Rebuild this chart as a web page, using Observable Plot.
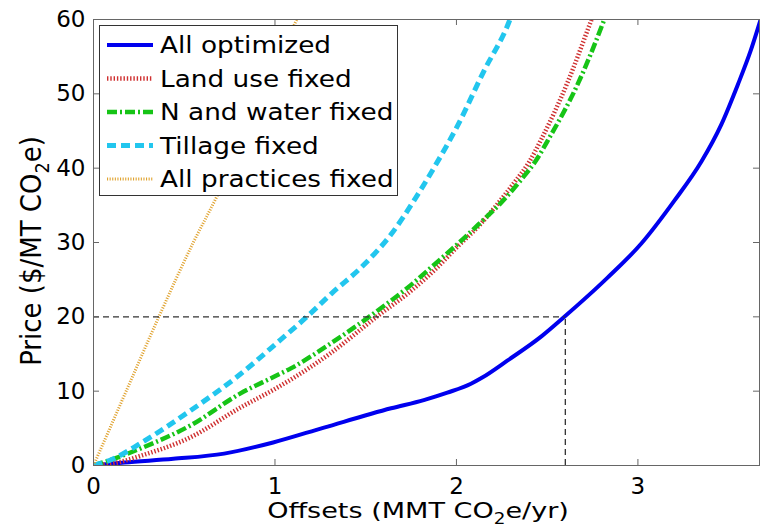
<!DOCTYPE html>
<html><head><meta charset="utf-8">
<script src="https://cdn.jsdelivr.net/npm/d3@7"></script>
<script src="https://cdn.jsdelivr.net/npm/@observablehq/plot@0.6"></script>
<style>body{margin:0;background:#fff;} #chart{width:760px;height:529px;}</style>
</head><body><div id="chart"></div>
<script>
// ---- data ----
const seriesNames = ["All optimized", "Land use fixed", "N and water fixed", "Tillage fixed", "All practices fixed"];

const allOptimizedX = [0, 0.17, 0.44, 0.72, 0.99, 1.27, 1.64, 1.82, 1.95, 2.08, 2.14, 2.28, 2.47, 2.59, 2.83, 3.02, 3.2, 3.35, 3.46, 3.55, 3.62, 3.68];
const allOptimizedY = [0, 0.4, 0.9, 1.6, 3.1, 5.1, 7.7, 8.8, 9.8, 11.0, 11.8, 14.1, 17.4, 19.9, 25.2, 29.9, 35.6, 40.9, 45.9, 51.2, 55.7, 60.3];

const landUseX = [0, 0.15, 0.26, 0.535, 0.81, 1.0, 1.09, 1.3, 1.56, 1.75, 1.88, 2.0, 2.13, 2.22, 2.32, 2.40, 2.47, 2.61, 2.74, 2.76];
const landUseY = [0, 0.5, 1.3, 3.8, 7.8, 10.3, 11.6, 15.0, 20, 23.5, 26.3, 29.3, 32.4, 35.0, 38.1, 40.8, 44.0, 51.4, 59.7, 61];

const nWaterX = [0, 0.1, 0.26, 0.535, 0.81, 1.0, 1.09, 1.3, 1.53, 1.75, 1.9, 2.02, 2.12, 2.24, 2.355, 2.44, 2.51, 2.67, 2.81, 2.83];
const nWaterY = [0, 0.8, 2.3, 5.4, 9.7, 12.0, 13.1, 16.3, 20.2, 24.3, 27.5, 30.1, 32.4, 35.2, 38.4, 41.1, 44.0, 51.4, 59.7, 61];

const tillageX = [0, 0.1, 0.26, 0.535, 0.81, 1.03, 1.18, 1.31, 1.49, 1.64, 1.765, 1.875, 2.01, 2.15, 2.29, 2.31];
const tillageY = [0, 0.8, 3.0, 7.4, 12.3, 16.9, 20.1, 23.1, 27.0, 31.1, 35.6, 40, 45.9, 53, 59.7, 61];

const allPracticesX = [0, 0.18, 0.36, 0.55, 0.68, 0.9, 1.12, 1.14];
const allPracticesY = [0, 10, 20, 30, 36.2, 48, 60, 61];

const xTicks = [0, 1, 2, 3];
const yTicks = [0, 10, 20, 30, 40, 50, 60];
const refPrice = 20;
const refOffset = 2.6;
const xLabelParts = ["Offsets (MMT CO", "2", "e/yr)"];
const yLabelParts = ["Price ($/MT CO", "2", "e)"];

// ---- styles ----
const styles = [
  {stroke: "#0000ee", strokeWidth: 4, dash: null},
  {stroke: "#cf3030", strokeWidth: 4.5, dash: "1.4 1.9"},
  {stroke: "#16c416", strokeWidth: 4.5, dash: "10 3 2 3"},
  {stroke: "#22c6ee", strokeWidth: 5, dash: "9 5"},
  {stroke: "#e0a330", strokeWidth: 3, dash: "1.1 1.5"}
];

const xs = [allOptimizedX, landUseX, nWaterX, tillageX, allPracticesX];
const ys = [allOptimizedY, landUseY, nWaterY, tillageY, allPracticesY];
const series = seriesNames.map((name, i) => xs[i].map((x, j) => ({name, x, y: ys[i][j]})));

const W = 760, H = 529, mL = 93, mR = 1, mT = 19, mB = 64;
const pw = W - mL - mR, ph = H - mT - mB;
const tickLen = 6;
const axisColor = "#666";
const FONT = "DejaVu Sans, sans-serif";

const marks = [
  ...series.map((data, i) => Plot.line(data, {
    x: "x", y: "y", stroke: styles[i].stroke, strokeWidth: styles[i].strokeWidth,
    strokeDasharray: styles[i].dash, strokeLinecap: "butt", strokeLinejoin: "round",
    clip: true, curve: "monotone-x"
  })),
  Plot.ruleY([refPrice], {x1: 0, x2: refOffset, stroke: "#333", strokeWidth: 1.3, strokeDasharray: "6 4"}),
  Plot.ruleX([refOffset], {y1: 0, y2: refPrice, stroke: "#333", strokeWidth: 1.3, strokeDasharray: "6 4"}),
  Plot.frame({stroke: axisColor}),
  Plot.tickX(xTicks, {x: d => d, insetTop: ph - tickLen, stroke: axisColor}),
  Plot.tickX(xTicks, {x: d => d, insetBottom: ph - tickLen, stroke: axisColor}),
  Plot.tickY(yTicks, {y: d => d, insetRight: pw - tickLen, stroke: axisColor}),
  Plot.tickY(yTicks, {y: d => d, insetLeft: pw - tickLen, stroke: axisColor}),
  Plot.axisX({ticks: xTicks, tickSize: 0, tickPadding: 12, label: null, tickFormat: d => String(d), fontSize: 23}),
  Plot.axisY({ticks: yTicks, tickSize: 0, tickPadding: 8, label: null, tickFormat: d => String(d), fontSize: 23})
];

const chart = Plot.plot({
  width: W, height: H,
  marginLeft: mL, marginRight: mR, marginTop: mT, marginBottom: mB,
  x: {domain: [0, 3.67]},
  y: {domain: [0, 60]},
  style: {fontFamily: FONT, color: "#000", background: "#fff", overflow: "visible"},
  marks
});
document.getElementById("chart").appendChild(chart);

const svg = d3.select(chart);

// ---- axis labels with real subscripts ----
function labelText(g, parts, size) {
  const t = g.append("text").attr("font-family", FONT).attr("font-size", size).attr("fill", "#000")
    .attr("text-anchor", "middle");
  t.append("tspan").text(parts[0]);
  t.append("tspan").attr("font-size", size * 0.68).attr("dy", size * 0.28).text(parts[1]);
  t.append("tspan").attr("dy", -size * 0.28).text(parts[2]);
  return t;
}
const xl = svg.append("g").attr("transform", `translate(${(mL + W - mR) / 2 - 8},518) scale(1.23,1)`);
labelText(xl, xLabelParts, 22);
const yl = svg.append("g").attr("transform", `translate(31,251) rotate(-90) scale(1,1.1)`);
labelText(yl, yLabelParts, 26).attr("dy", "0.36em");

// ---- legend (inside plot, upper-left) ----
const lg = svg.append("g").attr("class", "legend").attr("text-anchor", "start");
const lx = 99, ly = 25, lw = 298, lh = 170, rowH = 33.5, row0 = 45;
lg.append("rect").attr("x", lx + 0.5).attr("y", ly + 0.5).attr("width", lw).attr("height", lh)
  .attr("fill", "#fff").attr("stroke", "#333").attr("stroke-width", 1);
seriesNames.forEach((name, i) => {
  const yy = row0 + i * rowH;
  lg.append("line").attr("x1", lx + 8).attr("x2", lx + 54).attr("y1", yy).attr("y2", yy)
    .attr("stroke", styles[i].stroke).attr("stroke-width", styles[i].strokeWidth)
    .attr("stroke-dasharray", styles[i].dash).attr("stroke-linecap", "butt");
  lg.append("text").attr("transform", `translate(${lx + 61},${yy}) scale(1.12,1)`).attr("dy", "0.36em")
    .attr("text-anchor", "start")
    .attr("font-size", 23.5).attr("font-family", FONT).attr("fill", "#000").text(name);
});
</script>
</body></html>
